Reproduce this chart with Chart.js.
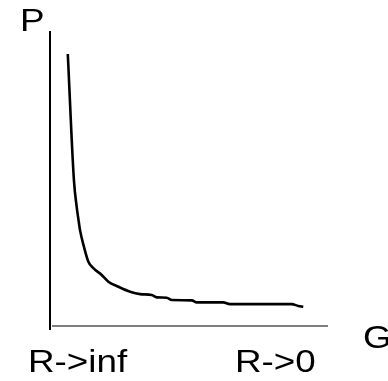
<!DOCTYPE html>
<html lang="en">
<head>
<meta charset="UTF-8">
<title>P vs G</title>
<script src="https://cdn.jsdelivr.net/npm/chart.js"></script>
<style>
  html, body { margin: 0; padding: 0; background: #ffffff; }
  #wrap { width: 388px; height: 381px; }
</style>
</head>
<body>
<div id="wrap"><canvas id="curve" width="388" height="381"></canvas></div>
<script>
// curve samples: G (horizontal) against P (vertical), arbitrary units 0..100
const gValues = [6.4, 8.6, 9.6, 10.2, 10.8, 12.2, 13.8, 15.6, 18.6, 21.0, 24.6, 28.8, 32.4, 36.6, 38.4, 42.0, 43.8, 51.0, 52.8, 62.3, 64.7, 86.9, 89.3, 91.1];
const pValues = [92.2, 49.5, 40.4, 36.3, 32.5, 26.9, 21.8, 19.6, 17.3, 15.0, 13.3, 11.6, 10.8, 10.5, 9.7, 9.6, 8.8, 8.7, 8.0, 8.0, 7.4, 7.4, 6.8, 6.5];

// axis captions
const yCaption = 'P';
const xCaption = 'G';
const xEndLabels = ['R->inf', 'R->0'];

const points = gValues.map((g, i) => ({ x: g, y: pValues[i] }));

// axes and captions drawn by hand (no ticks on this sketch)
const sketchAxes = {
  id: 'sketchAxes',
  beforeDatasetsDraw(chart) {
    const { ctx, scales: { x, y } } = chart;
    const x0 = x.getPixelForValue(0);
    const y0 = y.getPixelForValue(0);
    ctx.save();
    // vertical axis
    ctx.strokeStyle = '#000000';
    ctx.lineWidth = 2;
    ctx.beginPath();
    ctx.moveTo(x0, y.getPixelForValue(100));
    ctx.lineTo(x0, y0 + 4);
    ctx.stroke();
    // horizontal axis
    ctx.strokeStyle = '#555555';
    ctx.lineWidth = 1.5;
    ctx.beginPath();
    ctx.moveTo(x0 + 2, y0);
    ctx.lineTo(x.getPixelForValue(100), y0);
    ctx.stroke();
    ctx.restore();
  },
  afterDraw(chart) {
    const { ctx } = chart;
    const put = (text, px, py) => {
      ctx.save();
      ctx.translate(px, py);
      ctx.scale(1.15, 1);
      ctx.fillText(text, 0, 0);
      ctx.restore();
    };
    ctx.save();
    ctx.fillStyle = '#000000';
    ctx.font = '32px "Liberation Sans", Arial, sans-serif';
    ctx.textBaseline = 'alphabetic';
    put(yCaption, 20, 31);
    put(xCaption, 363, 348);
    put(xEndLabels[0], 28, 372);
    put(xEndLabels[1], 235, 372);
    ctx.restore();
  }
};

new Chart(document.getElementById('curve'), {
  type: 'line',
  data: {
    datasets: [{
      data: points,
      borderColor: '#000000',
      borderWidth: 2.6,
      pointRadius: 0,
      fill: false,
      cubicInterpolationMode: 'monotone'
    }]
  },
  options: {
    responsive: false,
    animation: false,
    layout: { padding: { left: 50, top: 31, right: 60, bottom: 55 } },
    scales: {
      x: { type: 'linear', min: 0, max: 100, display: false },
      y: { type: 'linear', min: 0, max: 100, display: false }
    },
    plugins: {
      legend: { display: false },
      tooltip: { enabled: false }
    }
  },
  plugins: [sketchAxes]
});
</script>
</body>
</html>
